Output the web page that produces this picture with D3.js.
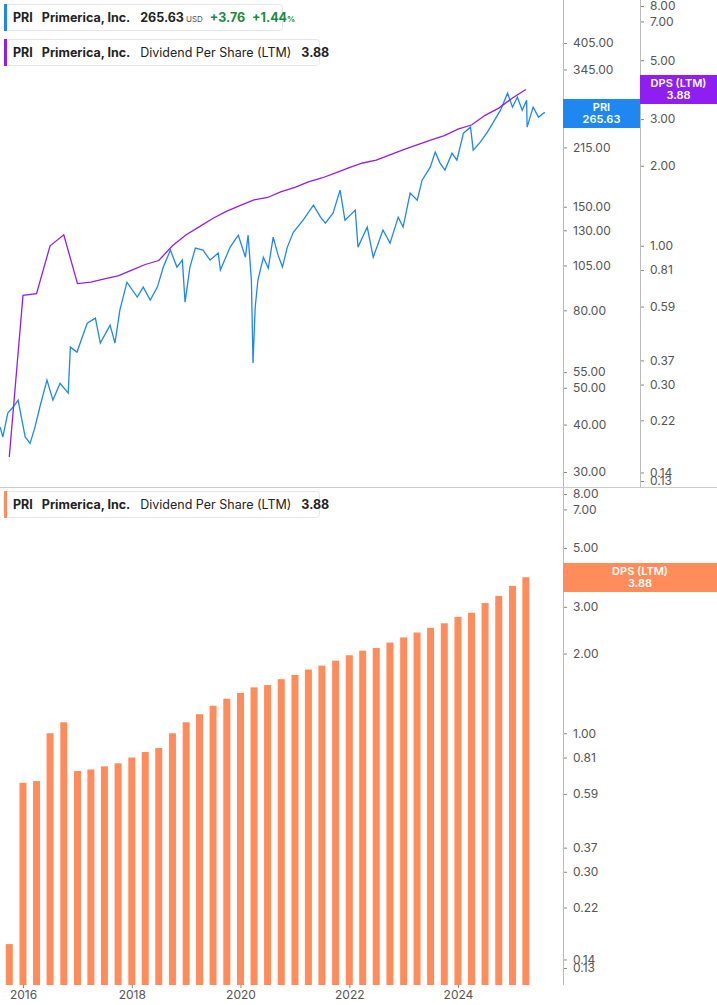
<!DOCTYPE html>
<html><head><meta charset="utf-8">
<script src="https://cdn.jsdelivr.net/npm/d3@7"></script>
<style>body{margin:0;background:#fff;font-family:Inter,"Noto Sans",sans-serif}</style>
</head><body><svg id="c" width="717" height="1005"></svg>
<script>
const priceYears=[2015.58,2015.63,2015.72,2015.82,2015.91,2016.04,2016.13,2016.22,2016.31,2016.44,2016.55,2016.68,2016.83,2016.87,2016.99,2017.18,2017.33,2017.42,2017.60,2017.69,2017.78,2017.91,2018.10,2018.21,2018.34,2018.47,2018.58,2018.71,2018.83,2018.93,2018.98,2019.07,2019.17,2019.31,2019.44,2019.59,2019.63,2019.81,2019.96,2020.09,2020.14,2020.20,2020.23,2020.27,2020.32,2020.42,2020.51,2020.60,2020.69,2020.77,2020.86,2020.97,2021.15,2021.34,2021.47,2021.56,2021.70,2021.83,2021.92,2022.11,2022.16,2022.33,2022.44,2022.62,2022.75,2022.90,2022.99,2023.12,2023.25,2023.34,2023.49,2023.58,2023.67,2023.76,2023.89,2023.98,2024.10,2024.23,2024.28,2024.41,2024.54,2024.65,2024.78,2024.91,2025.00,2025.09,2025.18,2025.26,2025.27,2025.38,2025.48,2025.57,2025.60];
const priceValues=[39.4,37.1,42.9,44.5,46.4,37.1,35.7,39.4,44.5,52.4,46.4,51.4,48.4,64.0,62.1,74.0,76.3,65.6,73.1,65.6,80.1,94.9,86.7,92.1,85.1,92.1,104.0,115.3,104.0,108.5,84.1,104.0,116.7,115.3,108.5,113.2,102.1,117.4,126.2,110.4,126.2,96.1,58.1,81.5,96.1,110.4,103.3,124.7,111.8,104.0,117.4,128.5,138.2,151.4,140.8,135.8,144.3,165.9,138.2,146.9,117.4,132.6,110.4,130.2,120.3,140.8,132.6,162.9,156.1,176.2,190.7,208.9,195.4,187.3,207.6,199.0,234.4,243.1,211.4,221.9,235.8,250.6,269.4,298.7,274.4,291.6,269.4,286.3,243.1,274.4,258.3,264.6,265.63];
const dpsDates=["2015-10-01","2016-01-01","2016-04-01","2016-07-01","2016-10-01","2017-01-01","2017-04-01","2017-07-01","2017-10-01","2018-01-01","2018-04-01","2018-07-01","2018-10-01","2019-01-01","2019-04-01","2019-07-01","2019-10-01","2020-01-01","2020-04-01","2020-07-01","2020-10-01","2021-01-01","2021-04-01","2021-07-01","2021-10-01","2022-01-01","2022-04-01","2022-07-01","2022-10-01","2023-01-01","2023-04-01","2023-07-01","2023-10-01","2024-01-01","2024-04-01","2024-07-01","2024-10-01","2025-01-01","2025-04-01"];
const dpsValues=[0.16,0.65,0.66,1.00,1.10,0.72,0.73,0.75,0.77,0.81,0.85,0.88,1.00,1.10,1.18,1.27,1.35,1.42,1.49,1.52,1.60,1.66,1.74,1.80,1.88,1.97,2.05,2.10,2.20,2.30,2.40,2.50,2.60,2.75,2.85,3.10,3.30,3.60,3.88];
const priceTicks=[405,345,280,215,150,130,105,80,55,50,40,30];
const dpsTicks=[8,7,5,3,2,1,0.81,0.59,0.37,0.30,0.22,0.14,0.13];
const yearTicks=[2016,2018,2020,2022,2024];

const BLUE="#1e88f0",PURPLE="#8f1ff0",ORANGE="#ff8c5a",GRAY="#555";
const svg=d3.select("#c");
const toDate=y=>{const yr=Math.floor(y);const s=new Date(yr,0,1),e=new Date(yr+1,0,1);return new Date(+s+(y-yr)*(e-s));};
const x=d3.scaleTime().domain([toDate(2015.577),toDate(2025.93)]).range([0,563]);
const yP=d3.scaleLog().domain([30,405]).range([472,43]);
const yD=d3.scaleLog().domain([0.13,8]).range([481,6]);
const yB=d3.scaleLog().domain([0.13,8]).range([968,494]);
const pd=dpsDates.map(d3.timeParse("%Y-%m-%d"));

// frame lines
svg.append("line").attr("x1",0).attr("x2",717).attr("y1",487.5).attr("y2",487.5).attr("stroke","#ccc");
svg.append("line").attr("x1",563.5).attr("x2",563.5).attr("y1",0).attr("y2",487).attr("stroke","#bbb");
svg.append("line").attr("x1",640.5).attr("x2",640.5).attr("y1",0).attr("y2",487).attr("stroke","#bbb");
svg.append("line").attr("x1",563.5).attr("x2",563.5).attr("y1",488).attr("y2",985).attr("stroke","#bbb");

function yAxis(scale,tx,ticks,fmt){
  const g=svg.append("g").attr("transform",`translate(${tx},0)`)
   .call(d3.axisRight(scale).tickValues(ticks).tickFormat(fmt).tickSize(3).tickPadding(6));
  g.select(".domain").remove();
  g.selectAll("line").attr("stroke","#888");
  g.selectAll("text").attr("fill",GRAY).attr("font-size",12).attr("font-family","Inter,sans-serif");
}
yAxis(yP,564,priceTicks,d3.format(".2f"));
yAxis(yD,641,dpsTicks,d3.format(".2f"));
yAxis(yB,564,dpsTicks,d3.format(".2f"));

const gx=svg.append("g").attr("transform","translate(0,985)")
 .call(d3.axisBottom(x).tickValues(yearTicks.map(y=>new Date(y,0,1))).tickFormat(d3.timeFormat("%Y")).tickSize(3).tickPadding(2));
gx.select(".domain").remove();
gx.selectAll("line").attr("stroke","#888");
gx.selectAll("text").attr("fill",GRAY).attr("font-size",12).attr("font-family","Inter,sans-serif");

// price line
svg.append("path").datum(priceYears.map((y,i)=>[toDate(y),priceValues[i]]))
 .attr("d",d3.line().x(d=>x(d[0])).y(d=>yP(d[1]))).attr("fill","none").attr("stroke",BLUE).attr("stroke-width",1.3);
// DPS line
svg.append("path").datum(pd.map((d,i)=>[d,dpsValues[i]]))
 .attr("d",d3.line().x(d=>x(d[0])).y(d=>yD(d[1]))).attr("fill","none").attr("stroke",PURPLE).attr("stroke-width",1.3);
// bars
svg.selectAll("rect.bar").data(pd).enter().append("rect").attr("class","bar")
 .attr("x",(d,i)=>x(d)-3.5).attr("width",7).attr("y",(d,i)=>yB(dpsValues[i])).attr("height",(d,i)=>985-yB(dpsValues[i])).attr("fill",ORANGE);

// value labels
function tag(x0,y0,w,h,col,l1,l2){
  svg.append("rect").attr("x",x0).attr("y",y0).attr("width",w).attr("height",h).attr("fill",col);
  svg.append("text").attr("x",x0+w/2).attr("y",y0+12).attr("text-anchor","middle").attr("fill","#fff").attr("font-size",11).attr("font-weight",600).text(l1);
  svg.append("text").attr("x",x0+w/2).attr("y",y0+24).attr("text-anchor","middle").attr("fill","#fff").attr("font-size",11).attr("font-weight",600).text(l2);
}
tag(563,99,77,29,BLUE,"PRI",d3.format(".2f")(priceValues[priceValues.length-1]));
tag(640,75,77,29,PURPLE,"DPS (LTM)",d3.format(".2f")(dpsValues[dpsValues.length-1]));
tag(563,563,154,29,ORANGE,"DPS (LTM)",d3.format(".2f")(dpsValues[dpsValues.length-1]));

// legends
function legend(y0,w,col,parts){
  svg.append("rect").attr("x",4.5).attr("y",y0+.5).attr("width",w).attr("height",26).attr("rx",3).attr("fill","#fff").attr("stroke","#e6e6e6");
  svg.append("rect").attr("x",4).attr("y",y0).attr("width",3).attr("height",27).attr("fill",col);
  const t=svg.append("text").attr("x",13).attr("y",y0+18).attr("font-size",12.5).attr("fill","#222");
  parts.forEach(p=>{const s=t.append("tspan").text(p.t);if(p.dx)s.attr("dx",p.dx);if(p.w)s.attr("font-weight",p.w);if(p.c)s.attr("fill",p.c);if(p.s)s.attr("font-size",p.s);});
}
legend(4,278,BLUE,[{t:"PRI",w:700},{t:"Primerica, Inc.",w:700,dx:9},{t:"265.63",w:700,dx:10},{t:"USD",s:8,dx:2,c:"#555"},{t:"+3.76",w:700,c:"#1a8a3c",dx:7},{t:"+1.44",w:700,c:"#1a8a3c",dx:7},{t:"%",s:8,c:"#1a8a3c",w:700}]);
legend(39,315,PURPLE,[{t:"PRI",w:700},{t:"Primerica, Inc.",w:700,dx:9},{t:"Dividend Per Share (LTM)",dx:10},{t:"3.88",w:700,dx:10}]);
legend(491,315,ORANGE,[{t:"PRI",w:700},{t:"Primerica, Inc.",w:700,dx:9},{t:"Dividend Per Share (LTM)",dx:10},{t:"3.88",w:700,dx:10}]);
</script></body></html>
